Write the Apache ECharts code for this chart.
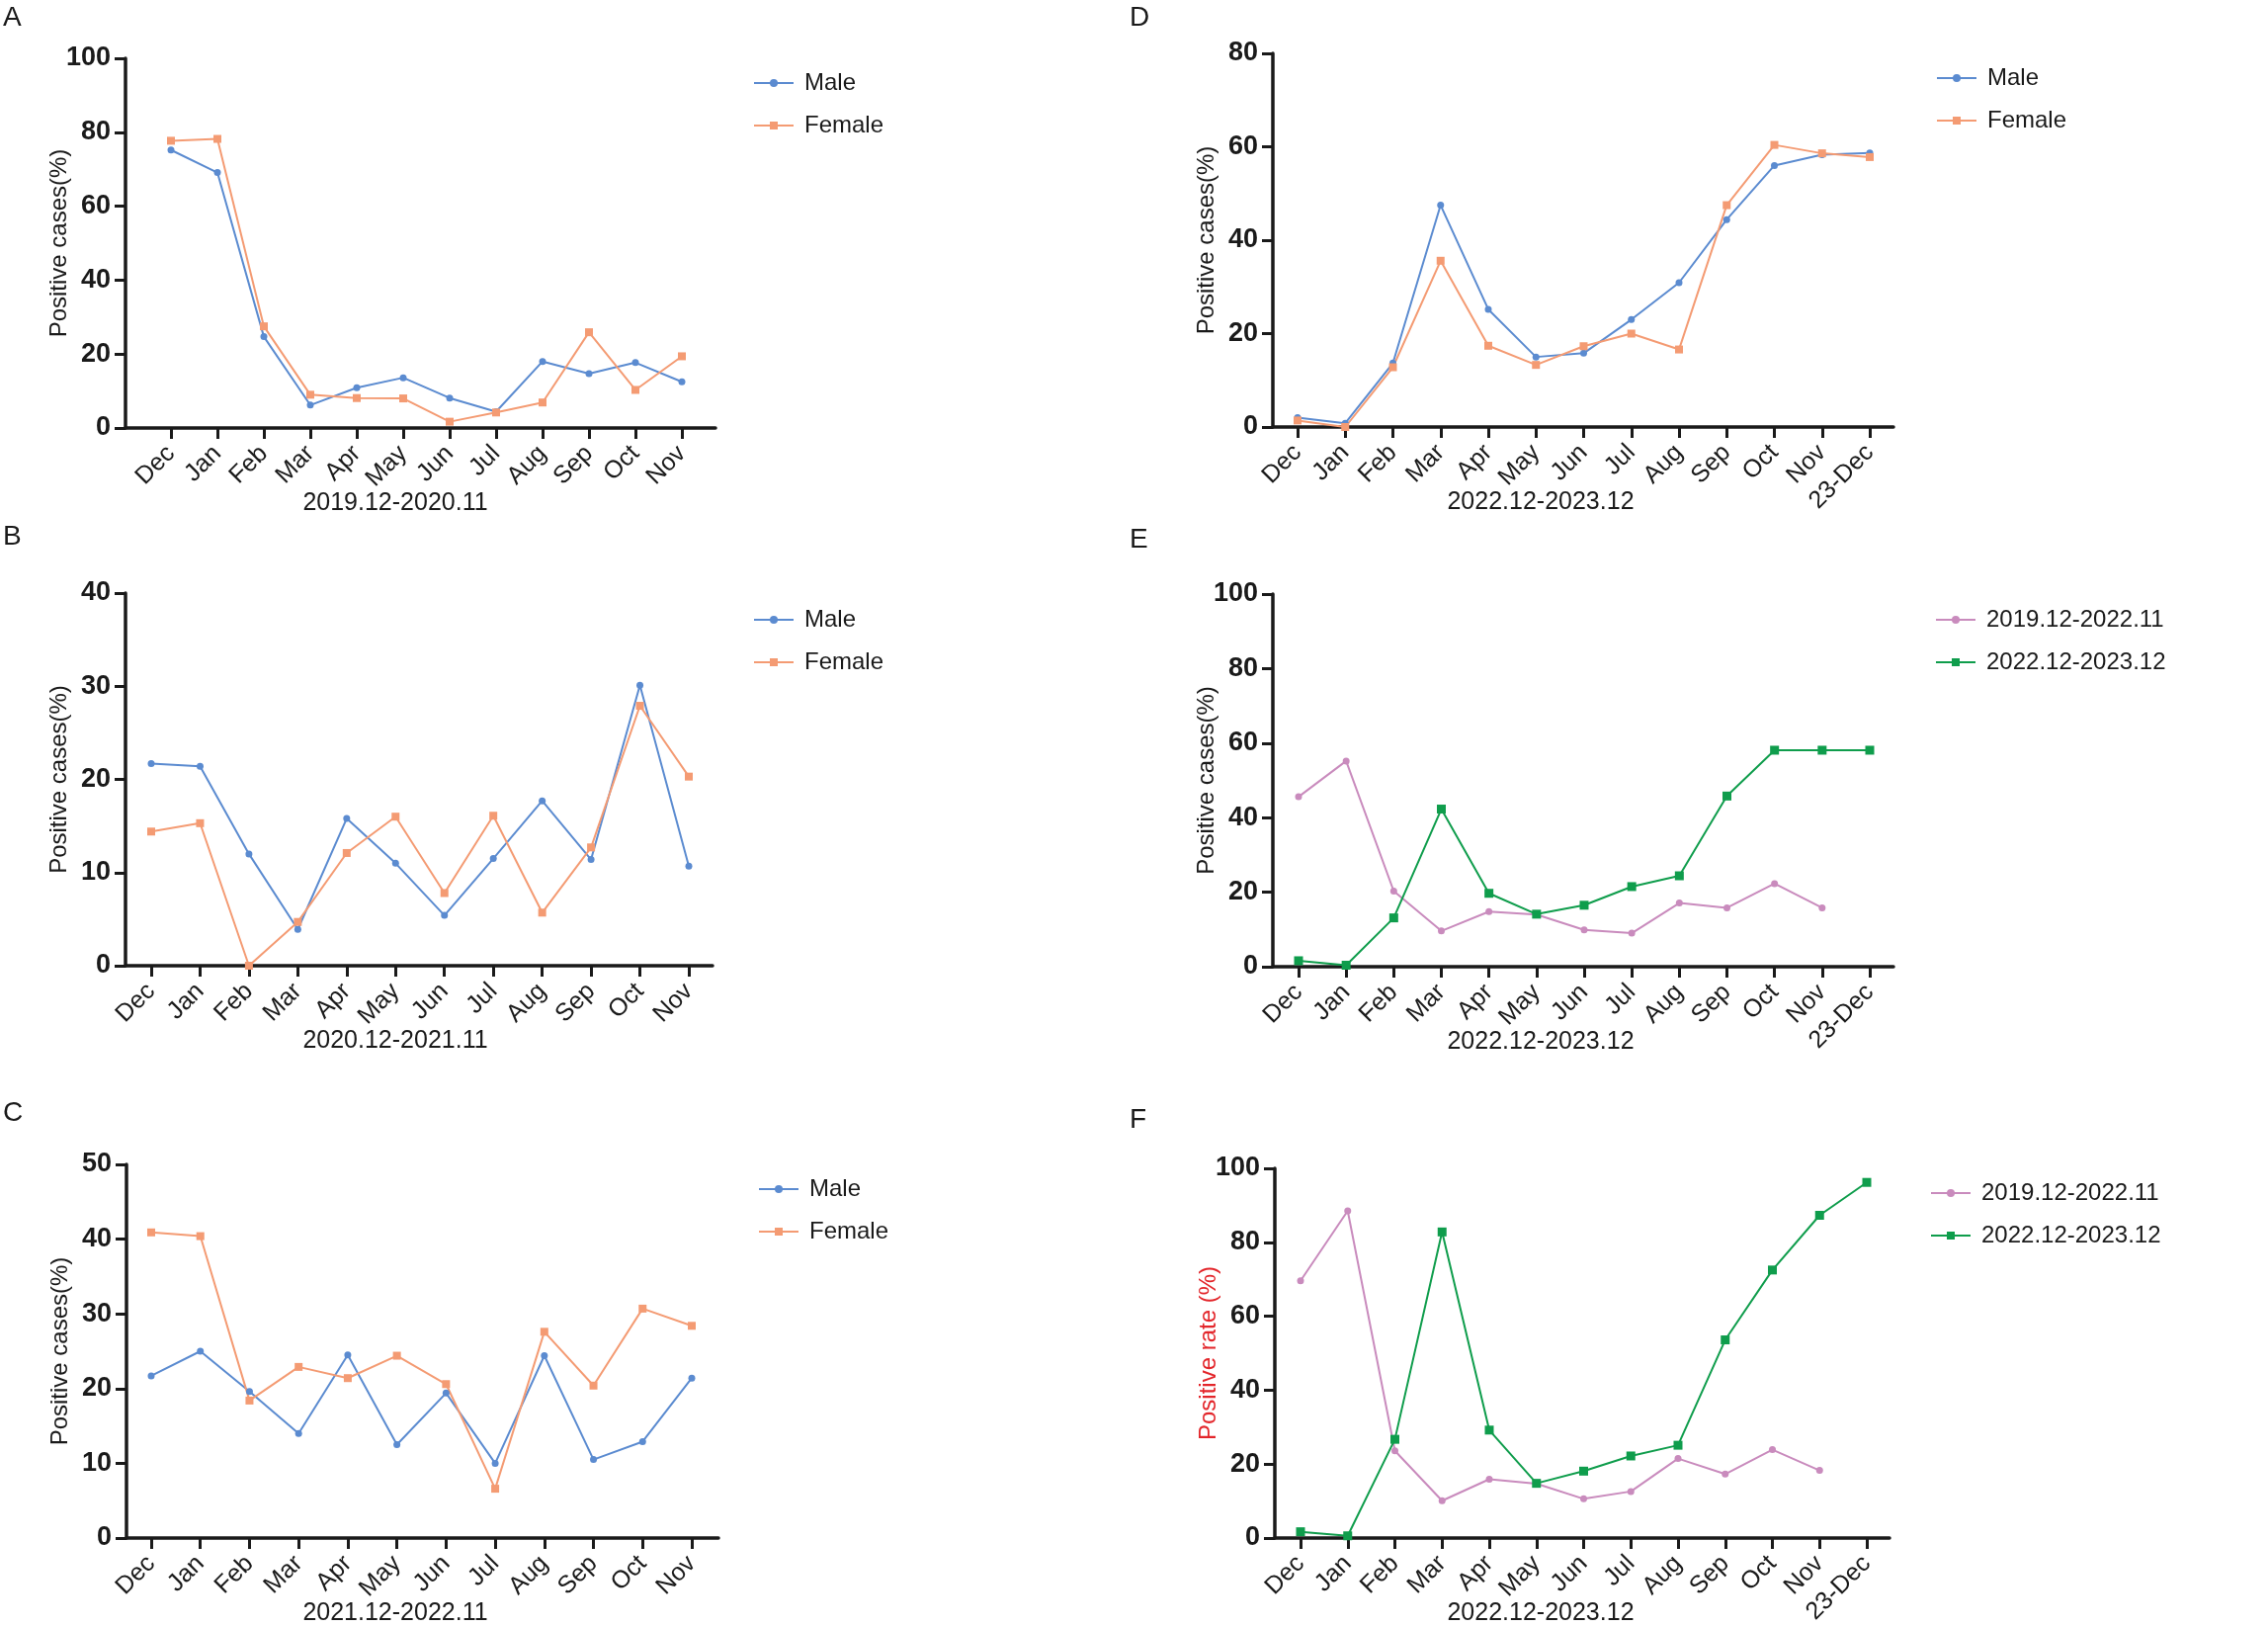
<!DOCTYPE html>
<html>
<head>
<meta charset="utf-8">
<script src="https://cdn.jsdelivr.net/npm/echarts@6/dist/echarts.min.js"></script>
<style>
  html, body { margin: 0; background: #fff; }
  #chart { width: 2295px; height: 1646px; }
</style>
</head>
<body>
<div id="chart"></div>
<script>
// month labels
const months12 = ['Dec', 'Jan', 'Feb', 'Mar', 'Apr', 'May', 'Jun', 'Jul', 'Aug', 'Sep', 'Oct', 'Nov'];
const months13 = months12.concat(['23-Dec']);

// A  2019.12-2020.11
const maleA = [75.2, 69.1, 24.7, 6.2, 10.9, 13.6, 8.1, 4.4, 18.0, 14.7, 17.7, 12.5];
const femaleA = [77.7, 78.2, 27.5, 9.0, 8.1, 8.0, 1.7, 4.2, 6.9, 25.9, 10.3, 19.4];
// B  2020.12-2021.11
const maleB = [21.7, 21.4, 12.0, 3.9, 15.8, 11.0, 5.4, 11.5, 17.7, 11.4, 30.1, 10.7];
const femaleB = [14.4, 15.3, 0.0, 4.7, 12.1, 16.0, 7.8, 16.1, 5.7, 12.7, 27.9, 20.3];
// C  2021.12-2022.11
const maleC = [21.7, 25.0, 19.6, 14.0, 24.5, 12.5, 19.4, 10.0, 24.4, 10.5, 12.9, 21.4];
const femaleC = [40.9, 40.4, 18.4, 22.9, 21.4, 24.4, 20.6, 6.6, 27.6, 20.4, 30.7, 28.4];
// D  2022.12-2023.12
const maleD = [2.0, 0.8, 13.7, 47.5, 25.2, 15.0, 15.8, 23.0, 30.9, 44.4, 56.0, 58.3, 58.7];
const femaleD = [1.4, 0.0, 12.8, 35.6, 17.4, 13.3, 17.3, 20.0, 16.6, 47.5, 60.4, 58.6, 57.8];
// E  positive cases, before / after
const earlyE = [45.6, 55.2, 20.3, 9.6, 14.8, 14.0, 9.9, 9.0, 17.1, 15.8, 22.3, 15.8];
const lateE = [1.6, 0.4, 13.1, 42.3, 19.7, 14.1, 16.5, 21.5, 24.4, 45.8, 58.1, 58.1, 58.1];
// F  positive rate, before / after
const earlyF = [69.6, 88.5, 23.6, 10.1, 15.9, 14.7, 10.6, 12.6, 21.5, 17.3, 23.9, 18.3];
const lateF = [1.7, 0.6, 26.7, 82.8, 29.2, 14.8, 18.1, 22.2, 25.1, 53.6, 72.5, 87.3, 96.2];

const FONT = 'Arial, "Liberation Sans", sans-serif';
const INK = '#1a1a1a';
const C_MALE = '#5b8bd0', C_FEMALE = '#f49b73', C_PINK = '#c98bbd', C_GREEN = '#0f9d4c';

const sexSeries = (m, f) => [
  { name: 'Male', data: m, color: C_MALE, symbol: 'circle', size: 7 },
  { name: 'Female', data: f, color: C_FEMALE, symbol: 'rect', size: 8 }
];
const periodSeries = (a, b) => [
  { name: '2019.12-2022.11', data: a, color: C_PINK, symbol: 'circle', size: 7 },
  { name: '2022.12-2023.12', data: b, color: C_GREEN, symbol: 'rect', size: 9 }
];

// layout of the six panels (pixel positions of axis box, first / last category)
const panels = [
  { tag: 'A', tagX: 3, tagY: 4, left: 127, right: 724, top: 59, bottom: 433, first: 173, last: 690,
    cats: months12, yMax: 100, yStep: 20, xName: '2019.12-2020.11', yName: 'Positive cases(%)',
    legX: 762, legY: 72, series: sexSeries(maleA, femaleA) },
  { tag: 'B', tagX: 3, tagY: 529, left: 127, right: 721, top: 600, bottom: 977, first: 153, last: 697,
    cats: months12, yMax: 40, yStep: 10, xName: '2020.12-2021.11', yName: 'Positive cases(%)',
    legX: 762, legY: 615, series: sexSeries(maleB, femaleB) },
  { tag: 'C', tagX: 3, tagY: 1112, left: 128, right: 727, top: 1178, bottom: 1556, first: 153, last: 700,
    cats: months12, yMax: 50, yStep: 10, xName: '2021.12-2022.11', yName: 'Positive cases(%)',
    legX: 767, legY: 1191, series: sexSeries(maleC, femaleC) },
  { tag: 'D', tagX: 1143, tagY: 4, left: 1288, right: 1916, top: 54, bottom: 432, first: 1313, last: 1892,
    cats: months13, yMax: 80, yStep: 20, xName: '2022.12-2023.12', yName: 'Positive cases(%)',
    legX: 1959, legY: 67, series: sexSeries(maleD, femaleD) },
  { tag: 'E', tagX: 1143, tagY: 532, left: 1288, right: 1916, top: 601, bottom: 978, first: 1314, last: 1892,
    cats: months13, yMax: 100, yStep: 20, xName: '2022.12-2023.12', yName: 'Positive cases(%)',
    legX: 1958, legY: 615, series: periodSeries(earlyE, lateE) },
  { tag: 'F', tagX: 1143, tagY: 1119, left: 1290, right: 1912, top: 1182, bottom: 1558, first: 1316, last: 1889,
    cats: months13, yMax: 100, yStep: 20, xName: '2022.12-2023.12', yName: 'Positive rate (%)', yNameColor: '#e3262b',
    legX: 1953, legY: 1195, series: periodSeries(earlyF, lateF) }
];

const option = {
  backgroundColor: '#fff',
  animation: false,
  textStyle: { fontFamily: FONT },
  title: [], grid: [], xAxis: [], yAxis: [], legend: [], series: []
};

panels.forEach((p, k) => {
  const n = p.cats.length;
  const unit = (p.last - p.first) / (n - 1);
  const ticks = p.cats.map((c, i) => i);
  const mid = (p.left + p.right) / 2;
  const nameCenter = p.cats === months12 ? 400 : 1559;
  const shift = mid - nameCenter;

  option.title.push({
    text: p.tag, left: p.tagX, top: p.tagY, padding: 0,
    textStyle: { fontFamily: FONT, fontSize: 28, fontWeight: 'normal', color: INK }
  });
  option.grid.push({
    left: p.left, top: p.top, width: p.right - p.left, height: p.bottom - p.top, containLabel: false
  });
  option.xAxis.push({
    type: 'value', gridIndex: k,
    min: -(p.first - p.left) / unit,
    max: (n - 1) + (p.right - p.last) / unit,
    splitLine: { show: false },
    axisLine: { show: true, onZero: false, lineStyle: { color: INK, width: 3.5 } },
    axisTick: { show: true, customValues: ticks, length: 11, lineStyle: { color: INK, width: 3 } },
    axisLabel: {
      show: true, customValues: ticks, rotate: 45, margin: 22,
      formatter: v => p.cats[Math.round(v)],
      fontFamily: FONT, fontSize: 25, color: INK
    },
    name: p.xName, nameLocation: 'middle', nameGap: 64, nameMoveOverlap: false,
    nameTextStyle: { fontFamily: FONT, fontSize: 25, color: INK, padding: [0, 2 * shift, 0, 0] }
  });
  option.yAxis.push({
    type: 'value', gridIndex: k, min: 0, max: p.yMax, interval: p.yStep,
    splitLine: { show: false },
    axisLine: { show: true, onZero: false, lineStyle: { color: INK, width: 3.5 } },
    axisTick: { show: true, length: 11, lineStyle: { color: INK, width: 3 } },
    axisLabel: { margin: 15, fontFamily: FONT, fontSize: 27, fontWeight: 'bold', color: INK },
    name: p.yName, nameLocation: 'middle', nameGap: 55, nameRotate: 90, nameMoveOverlap: false,
    nameTextStyle: { fontFamily: FONT, fontSize: 24, color: p.yNameColor || INK }
  });
  option.legend.push({
    orient: 'vertical', left: p.legX, top: p.legY, padding: 0, itemGap: 19,
    itemWidth: 40, itemHeight: 10,
    data: p.series.map(s => s.name),
    textStyle: { fontFamily: FONT, fontSize: 24, color: INK, padding: [0, 0, 0, 6] }
  });
  p.series.forEach(s => {
    option.series.push({
      name: s.name, type: 'line', xAxisIndex: k, yAxisIndex: k,
      data: s.data.map((v, i) => [i, v]),
      symbol: s.symbol, symbolSize: s.size,
      lineStyle: { color: s.color, width: 2 },
      itemStyle: { color: s.color },
      emphasis: { disabled: true }
    });
  });
});

const chart = echarts.init(document.getElementById('chart'));
chart.setOption(option);
</script>
</body>
</html>
